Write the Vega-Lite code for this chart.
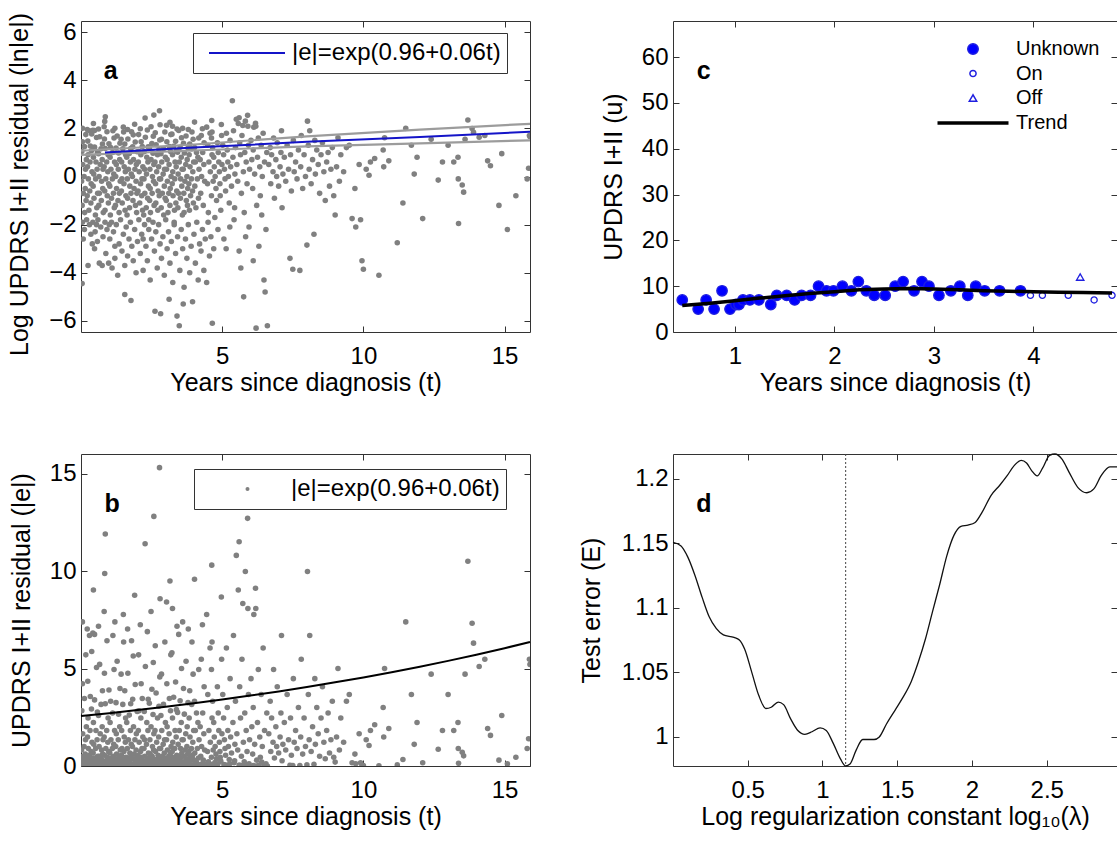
{
"$schema": "https://vega.github.io/schema/vega-lite/v6.json",
"background": "white",
"padding": {"left": 7, "top": 12, "right": 0, "bottom": 0},
"bounds": "flush",
"columns": 2,
"spacing": {"row": 122, "column": 143},
"resolve": {"scale": {"fill": "independent", "stroke": "independent", "shape": "independent", "size": "independent"}},
"datasets": {
"res": [
{"t":0.13,"l":-1.5,"e":0.22},{"t":0.04,"l":-1.2,"e":0.3},{"t":0.18,"l":-1,"e":0.37},{"t":0.08,"l":-0.7,"e":0.5},{"t":0.15,"l":-0.5,"e":0.61},{"t":0.02,"l":-0.2,"e":0.82},{"t":0.11,"l":0,"e":1},{"t":0.16,"l":0.3,"e":1.35},{"t":0.06,"l":0.5,"e":1.65},{"t":0.19,"l":0.7,"e":2.01},{"t":0.03,"l":1.04,"e":2.83},{"t":0.12,"l":1.24,"e":3.46},{"t":0.05,"l":1.44,"e":4.22},{"t":0.17,"l":1.74,"e":5.7},
{"t":0.28,"l":-1.4,"e":0.25},{"t":0.35,"l":-1.1,"e":0.33},{"t":0.22,"l":-0.8,"e":0.45},{"t":0.31,"l":-0.6,"e":0.55},{"t":0.36,"l":-0.3,"e":0.74},{"t":0.26,"l":-0.1,"e":0.9},{"t":0.39,"l":0.2,"e":1.22},{"t":0.23,"l":0.4,"e":1.49},{"t":0.32,"l":0.6,"e":1.82},{"t":0.25,"l":0.9,"e":2.46},{"t":0.37,"l":1.07,"e":2.92},{"t":0.33,"l":1.27,"e":3.56},{"t":0.24,"l":1.47,"e":4.35},{"t":0.38,"l":1.77,"e":5.87},
{"t":0.51,"l":-1.6,"e":0.2},{"t":0.56,"l":-1.3,"e":0.27},{"t":0.46,"l":-0.9,"e":0.41},{"t":0.59,"l":-0.7,"e":0.5},{"t":0.43,"l":-0.4,"e":0.67},{"t":0.52,"l":-0.1,"e":0.9},{"t":0.45,"l":0.1,"e":1.11},{"t":0.57,"l":0.3,"e":1.35},{"t":0.53,"l":0.6,"e":1.82},{"t":0.44,"l":0.8,"e":2.23},{"t":0.58,"l":1.02,"e":2.77},{"t":0.48,"l":1.22,"e":3.39},{"t":0.55,"l":1.62,"e":5.05},{"t":0.42,"l":1.92,"e":6.82},
{"t":0.79,"l":-1.5,"e":0.22},{"t":0.63,"l":-1.2,"e":0.3},{"t":0.72,"l":-1,"e":0.37},{"t":0.65,"l":-0.7,"e":0.5},{"t":0.77,"l":-0.5,"e":0.61},{"t":0.73,"l":-0.2,"e":0.82},{"t":0.64,"l":0,"e":1},{"t":0.78,"l":0.3,"e":1.35},{"t":0.68,"l":0.5,"e":1.65},{"t":0.75,"l":0.7,"e":2.01},{"t":0.62,"l":0.95,"e":2.59},{"t":0.71,"l":1.15,"e":3.16},{"t":0.76,"l":1.35,"e":3.86},{"t":0.66,"l":1.65,"e":5.21},
{"t":0.85,"l":-1.4,"e":0.25},{"t":0.97,"l":-1.1,"e":0.33},{"t":0.93,"l":-0.8,"e":0.45},{"t":0.84,"l":-0.6,"e":0.55},{"t":0.98,"l":-0.3,"e":0.74},{"t":0.88,"l":-0.1,"e":0.9},{"t":0.95,"l":0.2,"e":1.22},{"t":0.82,"l":0.4,"e":1.49},{"t":0.91,"l":0.6,"e":1.82},{"t":0.96,"l":0.9,"e":2.46},{"t":0.86,"l":1.16,"e":3.19},{"t":0.99,"l":1.36,"e":3.9},{"t":0.83,"l":1.56,"e":4.76},{"t":0.92,"l":1.86,"e":6.42},
{"t":1.04,"l":-1.6,"e":0.2},{"t":1.18,"l":-1.3,"e":0.27},{"t":1.08,"l":-0.9,"e":0.41},{"t":1.15,"l":-0.7,"e":0.5},{"t":1.02,"l":-0.4,"e":0.67},{"t":1.11,"l":-0.1,"e":0.9},{"t":1.16,"l":0.1,"e":1.11},{"t":1.06,"l":0.3,"e":1.35},{"t":1.19,"l":0.6,"e":1.82},{"t":1.03,"l":0.8,"e":2.23},{"t":1.12,"l":1,"e":2.72},{"t":1.05,"l":1.2,"e":3.32},{"t":1.17,"l":1.6,"e":4.95},{"t":1.13,"l":1.9,"e":6.69},
{"t":1.35,"l":-1.5,"e":0.22},{"t":1.22,"l":-1.2,"e":0.3},{"t":1.31,"l":-1,"e":0.37},{"t":1.36,"l":-0.7,"e":0.5},{"t":1.26,"l":-0.5,"e":0.61},{"t":1.39,"l":-0.2,"e":0.82},{"t":1.23,"l":0,"e":1},{"t":1.32,"l":0.3,"e":1.35},{"t":1.25,"l":0.5,"e":1.65},{"t":1.37,"l":0.7,"e":2.01},{"t":1.33,"l":0.98,"e":2.66},{"t":1.24,"l":1.18,"e":3.25},{"t":1.38,"l":1.38,"e":3.97},{"t":1.28,"l":1.68,"e":5.37},
{"t":1.56,"l":-1.4,"e":0.25},{"t":1.46,"l":-1.1,"e":0.33},{"t":1.59,"l":-0.8,"e":0.45},{"t":1.43,"l":-0.6,"e":0.55},{"t":1.52,"l":-0.3,"e":0.74},{"t":1.45,"l":-0.1,"e":0.9},{"t":1.57,"l":0.2,"e":1.22},{"t":1.53,"l":0.4,"e":1.49},{"t":1.44,"l":0.6,"e":1.82},{"t":1.58,"l":0.9,"e":2.46},{"t":1.48,"l":1.15,"e":3.16},{"t":1.55,"l":1.35,"e":3.86},{"t":1.42,"l":1.55,"e":4.71},{"t":1.51,"l":1.85,"e":6.36},
{"t":1.63,"l":-1.6,"e":0.2},{"t":1.72,"l":-1.3,"e":0.27},{"t":1.65,"l":-0.9,"e":0.41},{"t":1.77,"l":-0.7,"e":0.5},{"t":1.73,"l":-0.4,"e":0.67},{"t":1.64,"l":-0.1,"e":0.9},{"t":1.78,"l":0.1,"e":1.11},{"t":1.68,"l":0.3,"e":1.35},{"t":1.75,"l":0.6,"e":1.82},{"t":1.62,"l":0.8,"e":2.23},{"t":1.71,"l":0.96,"e":2.61},{"t":1.76,"l":1.16,"e":3.19},{"t":1.66,"l":1.56,"e":4.76},{"t":1.79,"l":1.86,"e":6.42},
{"t":1.97,"l":-1.5,"e":0.22},{"t":1.93,"l":-1.2,"e":0.3},{"t":1.84,"l":-1,"e":0.37},{"t":1.98,"l":-0.7,"e":0.5},{"t":1.88,"l":-0.5,"e":0.61},{"t":1.95,"l":-0.2,"e":0.82},{"t":1.82,"l":0,"e":1},{"t":1.91,"l":0.3,"e":1.35},{"t":1.96,"l":0.5,"e":1.65},{"t":1.86,"l":0.7,"e":2.01},{"t":1.99,"l":1.03,"e":2.8},{"t":1.83,"l":1.23,"e":3.42},{"t":1.92,"l":1.43,"e":4.18},{"t":1.85,"l":1.73,"e":5.64},
{"t":2.18,"l":-1.4,"e":0.25},{"t":2.08,"l":-1.1,"e":0.33},{"t":2.15,"l":-0.8,"e":0.45},{"t":2.02,"l":-0.6,"e":0.55},{"t":2.11,"l":-0.3,"e":0.74},{"t":2.16,"l":-0.1,"e":0.9},{"t":2.06,"l":0.2,"e":1.22},{"t":2.19,"l":0.4,"e":1.49},{"t":2.03,"l":0.6,"e":1.82},{"t":2.12,"l":0.9,"e":2.46},{"t":2.05,"l":1.04,"e":2.83},{"t":2.17,"l":1.24,"e":3.46},{"t":2.13,"l":1.44,"e":4.22},{"t":2.04,"l":1.74,"e":5.7},
{"t":2.22,"l":-1.6,"e":0.2},{"t":2.31,"l":-1.3,"e":0.27},{"t":2.36,"l":-0.9,"e":0.41},{"t":2.26,"l":-0.7,"e":0.5},{"t":2.39,"l":-0.4,"e":0.67},{"t":2.23,"l":-0.1,"e":0.9},{"t":2.32,"l":0.1,"e":1.11},{"t":2.25,"l":0.3,"e":1.35},{"t":2.37,"l":0.6,"e":1.82},{"t":2.33,"l":0.8,"e":2.23},{"t":2.24,"l":1.03,"e":2.8},{"t":2.38,"l":1.23,"e":3.42},{"t":2.28,"l":1.63,"e":5.1},{"t":2.35,"l":1.93,"e":6.89},
{"t":2.46,"l":-1.5,"e":0.22},{"t":2.59,"l":-1.2,"e":0.3},{"t":2.43,"l":-1,"e":0.37},{"t":2.52,"l":-0.7,"e":0.5},{"t":2.45,"l":-0.5,"e":0.61},{"t":2.57,"l":-0.2,"e":0.82},{"t":2.53,"l":0,"e":1},{"t":2.44,"l":0.3,"e":1.35},{"t":2.58,"l":0.5,"e":1.65},{"t":2.48,"l":0.7,"e":2.01},{"t":2.55,"l":0.97,"e":2.64},{"t":2.42,"l":1.17,"e":3.22},{"t":2.51,"l":1.37,"e":3.94},{"t":2.56,"l":1.67,"e":5.31},
{"t":2.72,"l":-1.4,"e":0.25},{"t":2.65,"l":-1.1,"e":0.33},{"t":2.77,"l":-0.8,"e":0.45},{"t":2.73,"l":-0.6,"e":0.55},{"t":2.64,"l":-0.3,"e":0.74},{"t":2.78,"l":-0.1,"e":0.9},{"t":2.68,"l":0.2,"e":1.22},{"t":2.75,"l":0.4,"e":1.49},{"t":2.62,"l":0.6,"e":1.82},{"t":2.71,"l":0.9,"e":2.46},{"t":2.76,"l":1.12,"e":3.06},{"t":2.66,"l":1.32,"e":3.74},{"t":2.79,"l":1.52,"e":4.57},{"t":2.63,"l":1.82,"e":6.17},
{"t":2.93,"l":-1.6,"e":0.2},{"t":2.84,"l":-1.3,"e":0.27},{"t":2.98,"l":-0.9,"e":0.41},{"t":2.88,"l":-0.7,"e":0.5},{"t":2.95,"l":-0.4,"e":0.67},{"t":2.82,"l":-0.1,"e":0.9},{"t":2.91,"l":0.1,"e":1.11},{"t":2.96,"l":0.3,"e":1.35},{"t":2.86,"l":0.6,"e":1.82},{"t":2.99,"l":0.8,"e":2.23},{"t":2.83,"l":0.95,"e":2.59},{"t":2.92,"l":1.15,"e":3.16},{"t":2.85,"l":1.55,"e":4.71},{"t":2.97,"l":1.85,"e":6.36},
{"t":3.08,"l":-1.5,"e":0.22},{"t":3.15,"l":-1.2,"e":0.3},{"t":3.02,"l":-1,"e":0.37},{"t":3.11,"l":-0.7,"e":0.5},{"t":3.16,"l":-0.5,"e":0.61},{"t":3.06,"l":-0.2,"e":0.82},{"t":3.19,"l":0,"e":1},{"t":3.03,"l":0.3,"e":1.35},{"t":3.12,"l":0.5,"e":1.65},{"t":3.05,"l":0.7,"e":2.01},{"t":3.17,"l":1.04,"e":2.83},{"t":3.13,"l":1.24,"e":3.46},{"t":3.04,"l":1.44,"e":4.22},{"t":3.18,"l":1.74,"e":5.7},
{"t":3.31,"l":-1.4,"e":0.25},{"t":3.36,"l":-1.1,"e":0.33},{"t":3.26,"l":-0.8,"e":0.45},{"t":3.39,"l":-0.6,"e":0.55},{"t":3.23,"l":-0.3,"e":0.74},{"t":3.32,"l":-0.1,"e":0.9},{"t":3.25,"l":0.2,"e":1.22},{"t":3.37,"l":0.4,"e":1.49},{"t":3.33,"l":0.6,"e":1.82},{"t":3.24,"l":0.9,"e":2.46},{"t":3.38,"l":1.06,"e":2.89},{"t":3.28,"l":1.26,"e":3.53},{"t":3.35,"l":1.46,"e":4.31},{"t":3.22,"l":1.76,"e":5.81},
{"t":3.59,"l":-1.6,"e":0.2},{"t":3.43,"l":-1.3,"e":0.27},{"t":3.52,"l":-0.9,"e":0.41},{"t":3.45,"l":-0.7,"e":0.5},{"t":3.57,"l":-0.4,"e":0.67},{"t":3.53,"l":-0.1,"e":0.9},{"t":3.44,"l":0.1,"e":1.11},{"t":3.58,"l":0.3,"e":1.35},{"t":3.48,"l":0.6,"e":1.82},{"t":3.55,"l":0.8,"e":2.23},{"t":3.42,"l":1.01,"e":2.75},{"t":3.51,"l":1.21,"e":3.35},{"t":3.56,"l":1.61,"e":5},{"t":3.46,"l":1.91,"e":6.75},
{"t":3.65,"l":-1.5,"e":0.22},{"t":3.77,"l":-1.2,"e":0.3},{"t":3.73,"l":-1,"e":0.37},{"t":3.64,"l":-0.7,"e":0.5},{"t":3.78,"l":-0.5,"e":0.61},{"t":3.68,"l":-0.2,"e":0.82},{"t":3.75,"l":0,"e":1},{"t":3.62,"l":0.3,"e":1.35},{"t":3.71,"l":0.5,"e":1.65},{"t":3.76,"l":0.7,"e":2.01},{"t":3.66,"l":0.98,"e":2.66},{"t":3.79,"l":1.18,"e":3.25},{"t":3.63,"l":1.38,"e":3.97},{"t":3.72,"l":1.68,"e":5.37},
{"t":3.84,"l":-1.4,"e":0.25},{"t":3.98,"l":-1.1,"e":0.33},{"t":3.88,"l":-0.8,"e":0.45},{"t":3.95,"l":-0.6,"e":0.55},{"t":3.82,"l":-0.3,"e":0.74},{"t":3.91,"l":-0.1,"e":0.9},{"t":3.96,"l":0.2,"e":1.22},{"t":3.86,"l":0.4,"e":1.49},{"t":3.99,"l":0.6,"e":1.82},{"t":3.83,"l":0.9,"e":2.46},{"t":3.92,"l":1.15,"e":3.16},{"t":3.85,"l":1.35,"e":3.86},{"t":3.97,"l":1.55,"e":4.71},{"t":3.93,"l":1.85,"e":6.36},
{"t":4.07,"l":-1.3,"e":0.27},{"t":4.16,"l":-0.9,"e":0.41},{"t":4.03,"l":-0.4,"e":0.67},{"t":4.12,"l":-0.1,"e":0.9},{"t":4.18,"l":0.3,"e":1.35},{"t":4.05,"l":0.6,"e":1.82},{"t":4.14,"l":0.8,"e":2.23},{"t":4.09,"l":1,"e":2.72},{"t":4.02,"l":1.2,"e":3.32},{"t":4.17,"l":1.6,"e":4.95},
{"t":4.33,"l":-1.2,"e":0.3},{"t":4.24,"l":-0.7,"e":0.5},{"t":4.38,"l":-0.2,"e":0.82},{"t":4.27,"l":0,"e":1},{"t":4.35,"l":0.5,"e":1.65},{"t":4.22,"l":0.7,"e":2.01},{"t":4.31,"l":1,"e":2.72},{"t":4.36,"l":1.4,"e":4.06},{"t":4.26,"l":1.7,"e":5.47},
{"t":4.51,"l":-1.5,"e":0.22},{"t":4.62,"l":-0.8,"e":0.45},{"t":4.48,"l":-0.3,"e":0.74},{"t":4.58,"l":0.2,"e":1.22},{"t":4.53,"l":0.6,"e":1.82},{"t":4.64,"l":0.9,"e":2.46},{"t":4.49,"l":1.3,"e":3.67},{"t":4.57,"l":1.8,"e":6.05},
{"t":0.05,"l":-1.9,"e":0.15},{"t":0.12,"l":-2.2,"e":0.11},{"t":0.2,"l":-1.8,"e":0.17},{"t":0.08,"l":-2.6,"e":0.074},{"t":0.04,"l":-4.45,"e":0.012},{"t":0.3,"l":-2,"e":0.135},{"t":0.35,"l":-2.4,"e":0.091},{"t":0.25,"l":-3.7,"e":0.025},{"t":0.42,"l":-1.9,"e":0.15},{"t":0.5,"l":-2.3,"e":0.1},{"t":0.48,"l":-3,"e":0.05},{"t":0.58,"l":-2.7,"e":0.067},{"t":0.6,"l":-1.8,"e":0.17},{"t":0.65,"l":-3.6,"e":0.027},{"t":0.7,"l":-2.1,"e":0.12},{"t":0.75,"l":-3.7,"e":0.025},{"t":0.78,"l":-2.5,"e":0.082},{"t":0.85,"l":-1.9,"e":0.15},{"t":0.88,"l":-3.2,"e":0.041},{"t":0.92,"l":-2.2,"e":0.11},{"t":0.98,"l":-3.6,"e":0.027},
{"t":1.02,"l":-2.6,"e":0.074},{"t":1.08,"l":-1.9,"e":0.15},{"t":1.1,"l":-3.8,"e":0.022},{"t":1.15,"l":-2.3,"e":0.1},{"t":1.2,"l":-3.4,"e":0.033},{"t":1.25,"l":-2,"e":0.135},{"t":1.3,"l":-4.1,"e":0.017},{"t":1.35,"l":-2.8,"e":0.061},{"t":1.4,"l":-1.8,"e":0.17},{"t":1.45,"l":-3.1,"e":0.045},{"t":1.5,"l":-2.4,"e":0.091},{"t":1.55,"l":-3.7,"e":0.025},{"t":1.6,"l":-2.1,"e":0.12},{"t":1.65,"l":-3.3,"e":0.037},{"t":1.7,"l":-2.6,"e":0.074},{"t":1.75,"l":-1.9,"e":0.15},{"t":1.8,"l":-2.9,"e":0.055},{"t":1.85,"l":-3.5,"e":0.03},{"t":1.9,"l":-2.2,"e":0.11},{"t":1.95,"l":-4,"e":0.018},
{"t":2,"l":-2.7,"e":0.067},{"t":2.05,"l":-1.8,"e":0.17},{"t":2.1,"l":-3.2,"e":0.041},{"t":2.15,"l":-2.4,"e":0.091},{"t":2.2,"l":-3.9,"e":0.02},{"t":2.25,"l":-2,"e":0.135},{"t":2.3,"l":-2.9,"e":0.055},{"t":2.35,"l":-3.5,"e":0.03},{"t":2.4,"l":-2.2,"e":0.11},{"t":2.45,"l":-4.3,"e":0.014},{"t":2.5,"l":-2.6,"e":0.074},{"t":2.55,"l":-1.9,"e":0.15},{"t":2.6,"l":-3.1,"e":0.045},{"t":2.62,"l":-5.6,"e":0.004},{"t":2.65,"l":-2.3,"e":0.1},{"t":2.7,"l":-3.8,"e":0.022},{"t":2.75,"l":-2,"e":0.135},{"t":2.8,"l":-2.8,"e":0.061},{"t":2.82,"l":-5.7,"e":0.003},{"t":2.85,"l":-3.4,"e":0.033},{"t":2.9,"l":-2.5,"e":0.082},{"t":2.95,"l":-4.1,"e":0.017},
{"t":3,"l":-1.8,"e":0.17},{"t":3.05,"l":-3,"e":0.05},{"t":3.1,"l":-2.3,"e":0.1},{"t":3.12,"l":-5.1,"e":0.006},{"t":3.15,"l":-3.6,"e":0.027},{"t":3.2,"l":-2.7,"e":0.067},{"t":3.25,"l":-4.4,"e":0.012},{"t":3.3,"l":-2,"e":0.135},{"t":3.35,"l":-3.2,"e":0.041},{"t":3.4,"l":-5.8,"e":0.003},{"t":3.42,"l":-2.5,"e":0.082},{"t":3.48,"l":-6.2,"e":0.002},{"t":3.5,"l":-3.9,"e":0.02},{"t":3.55,"l":-2.2,"e":0.11},{"t":3.6,"l":-3,"e":0.05},{"t":3.62,"l":-5.3,"e":0.005},{"t":3.65,"l":-4.6,"e":0.01},{"t":3.7,"l":-2.6,"e":0.074},{"t":3.75,"l":-3.4,"e":0.033},{"t":3.8,"l":-2,"e":0.135},{"t":3.85,"l":-4,"e":0.018},{"t":3.9,"l":-2.9,"e":0.055},{"t":3.95,"l":-5.2,"e":0.006},
{"t":4,"l":-2.4,"e":0.091},{"t":4.05,"l":-3.6,"e":0.027},{"t":4.1,"l":-1.9,"e":0.15},{"t":4.15,"l":-4.3,"e":0.014},{"t":4.2,"l":-2.8,"e":0.061},{"t":4.25,"l":-3.1,"e":0.045},{"t":4.3,"l":-2.2,"e":0.11},{"t":4.35,"l":-3.9,"e":0.02},{"t":4.4,"l":-2.6,"e":0.074},{"t":4.45,"l":-4.4,"e":0.012},{"t":4.5,"l":-1.9,"e":0.15},{"t":4.55,"l":-3.3,"e":0.037},{"t":4.6,"l":-2.5,"e":0.082},{"t":4.65,"l":-6.1,"e":0.002},{"t":4.7,"l":-3,"e":0.05},
{"t":1.2,"l":-2.9,"e":0.055},{"t":0.4,"l":-2.8,"e":0.061},{"t":0.55,"l":-2,"e":0.135},{"t":1,"l":-2,"e":0.135},{"t":2.4,"l":-1.8,"e":0.17},{"t":3.3,"l":-1.9,"e":0.15},{"t":2.2,"l":-2.6,"e":0.074},{"t":1.55,"l":-4.9,"e":0.007},{"t":1.77,"l":-5.15,"e":0.006},
{"t":0.05,"l":2,"e":7.39},{"t":0.22,"l":1.95,"e":7.03},{"t":0.3,"l":1.9,"e":6.69},{"t":0.44,"l":2.2,"e":9.03},{"t":0.48,"l":1.91,"e":6.75},{"t":0.62,"l":1.97,"e":7.17},{"t":0.82,"l":2.07,"e":7.92},{"t":0.84,"l":2.29,"e":9.87},{"t":0.86,"l":2.48,"e":11.9},{"t":1.2,"l":2,"e":7.39},{"t":1.5,"l":2.05,"e":7.77},{"t":1.65,"l":1.95,"e":7.03},{"t":1.9,"l":2.17,"e":8.76},{"t":2.1,"l":1.98,"e":7.24},{"t":2.27,"l":2.43,"e":11.4},{"t":2.48,"l":2.07,"e":7.92},{"t":2.58,"l":2.55,"e":12.8},{"t":2.78,"l":2.73,"e":15.3},{"t":2.8,"l":2.15,"e":8.58},{"t":3.03,"l":2.13,"e":8.41},{"t":3.15,"l":2.25,"e":9.49},{"t":3.24,"l":2.09,"e":8.08},{"t":3.4,"l":1.97,"e":7.17},{"t":3.6,"l":2,"e":7.39},{"t":3.8,"l":1.95,"e":7.03},{"t":4.02,"l":2.26,"e":9.58},{"t":4.3,"l":1.98,"e":7.24},{"t":4.45,"l":2.05,"e":7.77},{"t":4.63,"l":2.33,"e":10.3},{"t":4.97,"l":2.16,"e":8.67},
{"t":4.62,"l":1.6,"e":4.95},{"t":4.66,"l":1.2,"e":3.32},{"t":4.7,"l":0.8,"e":2.23},{"t":4.72,"l":0.4,"e":1.49},{"t":4.75,"l":0,"e":1},{"t":4.78,"l":-0.5,"e":0.61},{"t":4.8,"l":-1,"e":0.37},{"t":4.64,"l":1.85,"e":6.36},{"t":4.68,"l":-0.2,"e":0.82},{"t":4.83,"l":1.4,"e":4.06},{"t":4.86,"l":1,"e":2.72},{"t":4.88,"l":0.6,"e":1.82},{"t":4.9,"l":0.2,"e":1.22},{"t":4.92,"l":-0.3,"e":0.74},{"t":4.95,"l":-1.4,"e":0.25},{"t":4.98,"l":1.7,"e":5.47},{"t":4.85,"l":-2.2,"e":0.11},{"t":4.93,"l":-0.8,"e":0.45},{"t":4.74,"l":-1.7,"e":0.18},{"t":4.99,"l":0.5,"e":1.65},
{"t":5.02,"l":1.3,"e":3.67},{"t":5.05,"l":0.9,"e":2.46},{"t":5.08,"l":0.3,"e":1.35},{"t":5.1,"l":-0.1,"e":0.9},{"t":5.12,"l":-0.6,"e":0.55},{"t":5.15,"l":1.8,"e":6.05},{"t":5.18,"l":1.1,"e":3},{"t":5.2,"l":0.6,"e":1.82},{"t":5.22,"l":0,"e":1},{"t":5.25,"l":-1.1,"e":0.33},{"t":5.28,"l":1.5,"e":4.48},{"t":5.3,"l":0.4,"e":1.49},{"t":5.33,"l":-0.4,"e":0.67},{"t":5.36,"l":3.15,"e":23.3},{"t":5.38,"l":0.8,"e":2.23},{"t":5.4,"l":1.9,"e":6.69},{"t":5.42,"l":-1.8,"e":0.17},{"t":5.45,"l":0.1,"e":1.11},{"t":5.47,"l":1.2,"e":3.32},{"t":5.5,"l":2.38,"e":10.8},{"t":5.06,"l":-2.6,"e":0.074},{"t":5.27,"l":-2.1,"e":0.12},{"t":5.44,"l":-1.3,"e":0.27},{"t":5.14,"l":-3,"e":0.05},
{"t":5.52,"l":0.5,"e":1.65},{"t":5.55,"l":-0.2,"e":0.82},{"t":5.57,"l":2.2,"e":9.03},{"t":5.6,"l":2.44,"e":11.5},{"t":5.62,"l":1.4,"e":4.06},{"t":5.65,"l":0.9,"e":2.46},{"t":5.68,"l":-0.7,"e":0.5},{"t":5.7,"l":1.7,"e":5.47},{"t":5.73,"l":2.12,"e":8.33},{"t":5.75,"l":0.2,"e":1.22},{"t":5.78,"l":-1.5,"e":0.22},{"t":5.8,"l":1,"e":2.72},{"t":5.82,"l":2.3,"e":9.97},{"t":5.85,"l":0.6,"e":1.82},{"t":5.88,"l":-0.3,"e":0.74},{"t":5.9,"l":2.54,"e":12.7},{"t":5.91,"l":2.09,"e":8.08},{"t":5.93,"l":1.3,"e":3.67},{"t":5.95,"l":-2.1,"e":0.12},{"t":5.97,"l":0.3,"e":1.35},{"t":5.6,"l":-3.1,"e":0.045},{"t":5.76,"l":-5,"e":0.007},{"t":5.83,"l":-2.5,"e":0.082},{"t":5.66,"l":-3.8,"e":0.022},
{"t":6.02,"l":1.5,"e":4.48},{"t":6.05,"l":0.7,"e":2.01},{"t":6.08,"l":-0.5,"e":0.61},{"t":6.1,"l":1.1,"e":3},{"t":6.12,"l":2.05,"e":7.77},{"t":6.15,"l":0.1,"e":1.11},{"t":6.18,"l":2.21,"e":9.12},{"t":6.19,"l":2.09,"e":8.08},{"t":6.22,"l":-1.2,"e":0.3},{"t":6.25,"l":0.8,"e":2.23},{"t":6.28,"l":1.6,"e":4.95},{"t":6.3,"l":-2.9,"e":0.055},{"t":6.33,"l":0.4,"e":1.49},{"t":6.35,"l":-0.8,"e":0.45},{"t":6.38,"l":1.3,"e":3.67},{"t":6.4,"l":-1.6,"e":0.2},{"t":6.42,"l":0,"e":1},{"t":6.45,"l":1.8,"e":6.05},{"t":6.48,"l":-4.3,"e":0.014},{"t":6.5,"l":0.6,"e":1.82},{"t":6.52,"l":-4.8,"e":0.008},{"t":6.55,"l":-2.2,"e":0.11},{"t":6.58,"l":1,"e":2.72},{"t":6.2,"l":-6.3,"e":0.002},{"t":6.6,"l":-6.2,"e":0.002},{"t":6.1,"l":-3.5,"e":0.03},
{"t":6.65,"l":0.5,"e":1.65},{"t":6.7,"l":1.2,"e":3.32},{"t":6.72,"l":-0.3,"e":0.74},{"t":6.75,"l":0.9,"e":2.46},{"t":6.8,"l":0.2,"e":1.22},{"t":6.82,"l":1.6,"e":4.95},{"t":6.85,"l":-0.9,"e":0.41},{"t":6.9,"l":0.7,"e":2.01},{"t":6.93,"l":0,"e":1},{"t":6.95,"l":1.4,"e":4.06},{"t":7,"l":-0.4,"e":0.67},{"t":7.05,"l":0.4,"e":1.49},{"t":7.08,"l":1,"e":2.72},{"t":7.1,"l":1.9,"e":6.69},{"t":7.12,"l":-1.3,"e":0.27},{"t":7.15,"l":0.1,"e":1.11},{"t":7.2,"l":0.8,"e":2.23},{"t":7.25,"l":-0.2,"e":0.82},{"t":7.3,"l":1.3,"e":3.67},{"t":7.35,"l":0.3,"e":1.35},{"t":7.4,"l":-3.4,"e":0.033},{"t":7.42,"l":0.9,"e":2.46},{"t":7.45,"l":-0.6,"e":0.55},{"t":7.5,"l":-3.85,"e":0.021},{"t":7.52,"l":1.5,"e":4.48},{"t":7.55,"l":0.2,"e":1.22},{"t":7.6,"l":0.6,"e":1.82},{"t":7.65,"l":-0.1,"e":0.9},{"t":7.7,"l":1.1,"e":3},{"t":7.75,"l":-3.9,"e":0.02},{"t":7.78,"l":0.4,"e":1.49},{"t":7.8,"l":1.7,"e":5.47},{"t":7.85,"l":-0.5,"e":0.61},{"t":7.9,"l":0.9,"e":2.46},{"t":7.95,"l":0,"e":1},
{"t":8,"l":-2.85,"e":0.058},{"t":8.02,"l":2.3,"e":9.97},{"t":8.05,"l":1.3,"e":3.67},{"t":8.08,"l":0.3,"e":1.35},{"t":8.1,"l":1.9,"e":6.69},{"t":8.15,"l":-0.3,"e":0.74},{"t":8.2,"l":0.7,"e":2.01},{"t":8.25,"l":-2.4,"e":0.091},{"t":8.28,"l":1.5,"e":4.48},{"t":8.3,"l":0.1,"e":1.11},{"t":8.35,"l":1.1,"e":3},{"t":8.4,"l":0.5,"e":1.65},{"t":8.45,"l":-0.7,"e":0.5},{"t":8.5,"l":0.9,"e":2.46},{"t":8.55,"l":1.4,"e":4.06},{"t":8.6,"l":0.2,"e":1.22},{"t":8.65,"l":-1,"e":0.37},{"t":8.7,"l":0.6,"e":1.82},{"t":8.75,"l":1,"e":2.72},{"t":8.8,"l":-0.4,"e":0.67},{"t":8.85,"l":0.3,"e":1.35},{"t":8.9,"l":1.2,"e":3.32},{"t":8.95,"l":-0.8,"e":0.45},{"t":9,"l":-1.6,"e":0.2},{"t":9.05,"l":0.4,"e":1.49},{"t":9.1,"l":1.61,"e":5},{"t":9.15,"l":-0.2,"e":0.82},
{"t":9.2,"l":0.9,"e":2.46},{"t":9.3,"l":0.2,"e":1.22},{"t":9.4,"l":1.2,"e":3.32},{"t":9.5,"l":1.3,"e":3.67},{"t":9.6,"l":-1.75,"e":0.17},{"t":9.7,"l":-0.5,"e":0.61},{"t":9.73,"l":-2.1,"e":0.12},{"t":9.85,"l":0.5,"e":1.65},{"t":9.9,"l":-1.8,"e":0.17},{"t":9.95,"l":-3.5,"e":0.03},{"t":10,"l":-3.85,"e":0.021},{"t":10.1,"l":0.3,"e":1.35},{"t":10.2,"l":0.05,"e":1.05},{"t":10.25,"l":0.6,"e":1.82},{"t":10.4,"l":0.75,"e":2.12},{"t":10.55,"l":-4.1,"e":0.017},{"t":10.7,"l":1.1,"e":3},{"t":10.72,"l":0.4,"e":1.49},{"t":10.75,"l":1.61,"e":5},{"t":10.9,"l":0.65,"e":1.92},{"t":11.2,"l":-2.75,"e":0.064},{"t":11.4,"l":-1.1,"e":0.33},{"t":11.5,"l":2,"e":7.39},{"t":11.7,"l":1.3,"e":3.67},{"t":11.8,"l":0.1,"e":1.11},{"t":11.9,"l":0.8,"e":2.23},
{"t":12.1,"l":-1.75,"e":0.17},{"t":12.4,"l":1.55,"e":4.71},{"t":12.65,"l":-0.15,"e":0.86},{"t":12.8,"l":0.6,"e":1.82},{"t":13,"l":1.3,"e":3.67},{"t":13.2,"l":0.6,"e":1.82},{"t":13.35,"l":0.8,"e":2.23},{"t":13.36,"l":-0.1,"e":0.9},{"t":13.37,"l":-1.95,"e":0.14},{"t":13.5,"l":-0.35,"e":0.7},{"t":13.55,"l":-0.65,"e":0.52},{"t":13.6,"l":1.55,"e":4.71},{"t":13.7,"l":2.35,"e":10.5},{"t":13.85,"l":1.99,"e":7.32},{"t":13.9,"l":1.84,"e":6.3},{"t":14.1,"l":1.63,"e":5.1},{"t":14.3,"l":1.7,"e":5.47},{"t":14.4,"l":0.65,"e":1.92},{"t":14.5,"l":0.45,"e":1.57},{"t":14.8,"l":-1.2,"e":0.3},{"t":14.9,"l":0.95,"e":2.59},{"t":15.1,"l":-2.2,"e":0.11},{"t":15.4,"l":-0.8,"e":0.45},{"t":15.8,"l":-0.1,"e":0.9},{"t":15.88,"l":1.7,"e":5.47},{"t":15.9,"l":1.65,"e":5.21},{"t":15.85,"l":0.34,"e":1.4}
],
"aband": [
{"t":0,"l":1.07,"b":"hi"},{"t":4,"l":1.33,"b":"hi"},{"t":8,"l":1.67,"b":"hi"},{"t":12,"l":1.95,"b":"hi"},{"t":15.9,"l":2.19,"b":"hi"},
{"t":0,"l":0.9,"b":"lo"},{"t":4,"l":1.08,"b":"lo"},{"t":8,"l":1.25,"b":"lo"},{"t":12,"l":1.38,"b":"lo"},{"t":15.9,"l":1.5,"b":"lo"}
],
"afit": [{"t":0.85,"l":1.0},{"t":4,"l":1.2},{"t":8,"l":1.44},{"t":12,"l":1.64},{"t":15.9,"l":1.86}],
"bfit": [{"t":0,"e":2.56},{"t":1,"e":2.71},{"t":2,"e":2.87},{"t":3,"e":3.04},{"t":4,"e":3.22},{"t":5,"e":3.41},{"t":6,"e":3.61},{"t":7,"e":3.82},{"t":8,"e":4.05},{"t":9,"e":4.29},{"t":10,"e":4.54},{"t":11,"e":4.81},{"t":12,"e":5.09},{"t":13,"e":5.39},{"t":14,"e":5.71},{"t":15,"e":6.04},{"t":15.9,"e":6.36}],
"cpts": [
{"t":0.47,"u":7,"s":"Unknown"},{"t":0.63,"u":5,"s":"Unknown"},{"t":0.71,"u":7,"s":"Unknown"},{"t":0.79,"u":5,"s":"Unknown"},{"t":0.87,"u":9,"s":"Unknown"},{"t":0.95,"u":5,"s":"Unknown"},{"t":1.01,"u":6,"s":"Unknown"},{"t":1.04,"u":6,"s":"Unknown"},{"t":1.08,"u":7,"s":"Unknown"},{"t":1.15,"u":7,"s":"Unknown"},{"t":1.24,"u":7,"s":"Unknown"},{"t":1.36,"u":6,"s":"Unknown"},{"t":1.42,"u":8,"s":"Unknown"},{"t":1.52,"u":8,"s":"Unknown"},{"t":1.6,"u":7,"s":"Unknown"},{"t":1.67,"u":8,"s":"Unknown"},{"t":1.76,"u":8,"s":"Unknown"},{"t":1.84,"u":10,"s":"Unknown"},{"t":1.92,"u":9,"s":"Unknown"},{"t":1.99,"u":9,"s":"Unknown"},{"t":2.08,"u":10,"s":"Unknown"},{"t":2.17,"u":9,"s":"Unknown"},{"t":2.24,"u":11,"s":"Unknown"},{"t":2.32,"u":9,"s":"Unknown"},{"t":2.4,"u":8,"s":"Unknown"},{"t":2.51,"u":8,"s":"Unknown"},{"t":2.61,"u":10,"s":"Unknown"},{"t":2.69,"u":11,"s":"Unknown"},{"t":2.8,"u":9,"s":"Unknown"},{"t":2.88,"u":11,"s":"Unknown"},{"t":2.95,"u":10,"s":"Unknown"},{"t":3.05,"u":8,"s":"Unknown"},{"t":3.17,"u":9,"s":"Unknown"},{"t":3.26,"u":10,"s":"Unknown"},{"t":3.34,"u":8,"s":"Unknown"},{"t":3.42,"u":10,"s":"Unknown"},{"t":3.51,"u":9,"s":"Unknown"},{"t":3.66,"u":9,"s":"Unknown"},{"t":3.87,"u":9,"s":"Unknown"},
{"t":3.97,"u":8,"s":"On"},{"t":4.09,"u":8,"s":"On"},{"t":4.35,"u":8,"s":"On"},{"t":4.61,"u":7,"s":"On"},{"t":4.79,"u":8,"s":"On"},
{"t":4.47,"u":12,"s":"Off"}
],
"ctrend": [{"t":0.47,"u":5.8},{"t":0.75,"u":6.3},{"t":1,"u":6.8},{"t":1.25,"u":7.4},{"t":1.5,"u":7.9},{"t":1.75,"u":8.4},{"t":2,"u":8.8},{"t":2.25,"u":9.2},{"t":2.5,"u":9.4},{"t":2.75,"u":9.5},{"t":3,"u":9.4},{"t":3.25,"u":9.2},{"t":3.5,"u":9.0},{"t":3.75,"u":8.9},{"t":4,"u":8.8},{"t":4.25,"u":8.7},{"t":4.5,"u":8.6},{"t":4.79,"u":8.5}],
"dcurve": [
{"x":0,"E":1.1506},{"x":0.052,"E":1.148},{"x":0.1,"E":1.139},{"x":0.147,"E":1.125},{"x":0.195,"E":1.108},{"x":0.242,"E":1.093},{"x":0.289,"E":1.084},{"x":0.337,"E":1.079},{"x":0.408,"E":1.077},{"x":0.444,"E":1.075},{"x":0.479,"E":1.068},{"x":0.527,"E":1.05},{"x":0.574,"E":1.032},{"x":0.621,"E":1.022},{"x":0.657,"E":1.023},{"x":0.704,"E":1.027},{"x":0.74,"E":1.025},{"x":0.787,"E":1.014},{"x":0.835,"E":1.005},{"x":0.882,"E":1.002},{"x":0.93,"E":1.004},{"x":0.984,"E":1.007},{"x":1.025,"E":1.005},{"x":1.072,"E":0.995},{"x":1.12,"E":0.983},{"x":1.155,"E":0.9775},{"x":1.184,"E":0.979},{"x":1.226,"E":0.99},{"x":1.269,"E":0.998},{"x":1.302,"E":0.998},{"x":1.345,"E":0.998},{"x":1.38,"E":1.0},{"x":1.428,"E":1.01},{"x":1.487,"E":1.021},{"x":1.535,"E":1.03},{"x":1.594,"E":1.043},{"x":1.641,"E":1.058},{"x":1.689,"E":1.076},{"x":1.736,"E":1.097},{"x":1.784,"E":1.118},{"x":1.831,"E":1.14},{"x":1.879,"E":1.156},{"x":1.926,"E":1.163},{"x":1.973,"E":1.164},{"x":2.021,"E":1.166},{"x":2.068,"E":1.174},{"x":2.128,"E":1.187},{"x":2.187,"E":1.195},{"x":2.234,"E":1.202},{"x":2.282,"E":1.21},{"x":2.329,"E":1.214},{"x":2.365,"E":1.212},{"x":2.4,"E":1.206},{"x":2.436,"E":1.202},{"x":2.472,"E":1.208},{"x":2.519,"E":1.218},{"x":2.555,"E":1.219},{"x":2.602,"E":1.215},{"x":2.649,"E":1.205},{"x":2.709,"E":1.193},{"x":2.768,"E":1.189},{"x":2.815,"E":1.192},{"x":2.863,"E":1.202},{"x":2.922,"E":1.209},{"x":2.97,"E":1.209}
]
},
"concat": [
{
"width": 449, "height": 311,
"resolve": {"axis": {"x": "independent", "y": "independent"}},
"layer": [
{"data": {"name": "res"}, "mark": {"type": "circle", "size": 31, "color": "#808080", "opacity": 1, "clip": true},
 "encoding": {
  "x": {"field": "t", "type": "quantitative", "scale": {"domain": [0, 15.9], "nice": false, "zero": false}, "axis": {"values": [5, 10, 15], "title": "Years since diagnosis (t)"}},
  "y": {"field": "l", "type": "quantitative", "scale": {"domain": [-6.46, 6.46], "nice": false, "zero": false}, "axis": {"values": [-6, -4, -2, 0, 2, 4, 6], "title": "Log UPDRS I+II residual (ln|e|)", "titlePadding": 16, "titleY": 163}}
 }},
{"data": {"name": "aband"}, "mark": {"type": "line", "color": "#9c9c9c", "strokeWidth": 2.2},
 "encoding": {
  "x": {"field": "t", "type": "quantitative", "scale": {"domain": [0, 15.9], "nice": false, "zero": false}, "axis": null},
  "y": {"field": "l", "type": "quantitative", "scale": {"domain": [-6.46, 6.46], "nice": false, "zero": false}, "axis": null},
  "detail": {"field": "b", "type": "nominal"}
 }},
{"data": {"name": "afit"}, "mark": {"type": "line", "strokeWidth": 2},
 "encoding": {
  "x": {"field": "t", "type": "quantitative", "scale": {"domain": [0, 15.9], "nice": false, "zero": false}, "axis": null},
  "y": {"field": "l", "type": "quantitative", "scale": {"domain": [-6.46, 6.46], "nice": false, "zero": false}, "axis": null},
  "stroke": {"datum": "|e|=exp(0.96+0.06t)", "type": "nominal", "scale": {"range": ["#1414c8"]},
   "legend": {"title": null, "orient": "none", "legendX": 112, "legendY": 12, "strokeColor": "#333333", "fillColor": "white", "padding": 6, "symbolType": "stroke", "symbolSize": 5776, "symbolStrokeWidth": 2, "clipHeight": 28, "symbolOffset": 9, "labelOffset": 6, "labelFontSize": 24, "labelLimit": 400}}
 }},
{"data": {"values": [{}]}, "mark": {"type": "text", "text": "a", "fontSize": 25, "fontWeight": "bold", "align": "center", "baseline": "middle", "color": "#000000"},
 "encoding": {
  "x": {"datum": 1.05, "type": "quantitative", "scale": {"domain": [0, 15.9], "nice": false, "zero": false}, "axis": {"orient": "top", "values": [5, 10, 15], "labels": false, "title": null}},
  "y": {"datum": 4.39, "type": "quantitative", "scale": {"domain": [-6.46, 6.46], "nice": false, "zero": false}, "axis": {"orient": "right", "values": [-6, -4, -2, 0, 2, 4, 6], "labels": false, "title": null}}
 }}
]
},
{
"width": 444, "height": 311,
"resolve": {"axis": {"x": "independent", "y": "independent"}},
"layer": [
{"data": {"name": "cpts"}, "mark": {"type": "point", "opacity": 1, "strokeWidth": 1.3, "stroke": "#1f1fe0"},
 "encoding": {
  "x": {"field": "t", "type": "quantitative", "scale": {"domain": [0.377, 4.84], "nice": false, "zero": false}, "axis": {"values": [1, 2, 3, 4], "format": "~g", "title": "Years since diagnosis (t)"}},
  "y": {"field": "u", "type": "quantitative", "scale": {"domain": [0, 67.9], "nice": false, "zero": false}, "axis": {"values": [0, 10, 20, 30, 40, 50, 60], "title": "UPDRS I+II (u)"}},
  "shape": {"field": "s", "type": "nominal", "scale": {"domain": ["Unknown", "On", "Off"], "range": ["circle", "circle", "triangle-up"]},
   "legend": {"title": null, "orient": "none", "legendX": 290, "legendY": 18, "padding": 0, "labelOffset": 33, "labelFontSize": 20, "rowPadding": 4.5, "encode": {"symbols": {"stroke": {"value": "#1f1fe0"}, "strokeWidth": {"value": 1.3}}}}},
  "fill": {"field": "s", "type": "nominal", "scale": {"domain": ["Unknown", "On", "Off"], "range": ["#0000ff", "transparent", "transparent"]},
   "legend": {"title": null, "orient": "none", "legendX": 290, "legendY": 18, "padding": 0, "labelOffset": 33, "labelFontSize": 20, "rowPadding": 4.5, "encode": {"symbols": {"stroke": {"value": "#1f1fe0"}, "strokeWidth": {"value": 1.3}}}}},
  "size": {"field": "s", "type": "nominal", "scale": {"type": "ordinal", "domain": ["Unknown", "On", "Off"], "range": [110, 38, 55]},
   "legend": {"title": null, "orient": "none", "legendX": 290, "legendY": 18, "padding": 0, "labelOffset": 33, "labelFontSize": 20, "rowPadding": 4.5, "encode": {"symbols": {"stroke": {"value": "#1f1fe0"}, "strokeWidth": {"value": 1.3}}}}}
 }},
{"data": {"name": "ctrend"}, "mark": {"type": "line", "strokeWidth": 3.5},
 "encoding": {
  "x": {"field": "t", "type": "quantitative", "scale": {"domain": [0.377, 4.84], "nice": false, "zero": false}, "axis": null},
  "y": {"field": "u", "type": "quantitative", "scale": {"domain": [0, 67.9], "nice": false, "zero": false}, "axis": null},
  "stroke": {"datum": "Trend", "type": "nominal", "scale": {"range": ["#000000"]},
   "legend": {"title": null, "orient": "none", "legendX": 262.5, "legendY": 92, "padding": 0, "symbolType": "stroke", "symbolSize": 5041, "symbolStrokeWidth": 3.5, "clipHeight": 20, "labelOffset": 5.5, "labelFontSize": 20}}
 }},
{"data": {"values": [{}]}, "mark": {"type": "text", "text": "c", "fontSize": 25, "fontWeight": "bold", "align": "center", "baseline": "middle", "color": "#000000"},
 "encoding": {
  "x": {"datum": 0.686, "type": "quantitative", "scale": {"domain": [0.377, 4.84], "nice": false, "zero": false}, "axis": {"orient": "top", "values": [1, 2, 3, 4], "labels": false, "title": null}},
  "y": {"datum": 57, "type": "quantitative", "scale": {"domain": [0, 67.9], "nice": false, "zero": false}, "axis": {"orient": "right", "values": [0, 10, 20, 30, 40, 50, 60], "labels": false, "title": null}}
 }}
]
},
{
"width": 449, "height": 312,
"resolve": {"axis": {"x": "independent", "y": "independent"}},
"layer": [
{"data": {"name": "res"}, "mark": {"type": "circle", "size": 31, "opacity": 1, "clip": true},
 "encoding": {
  "x": {"field": "t", "type": "quantitative", "scale": {"domain": [0, 15.9], "nice": false, "zero": false}, "axis": {"values": [5, 10, 15], "title": "Years since diagnosis (t)"}},
  "y": {"field": "e", "type": "quantitative", "scale": {"domain": [0, 16], "nice": false, "zero": false}, "axis": {"values": [0, 5, 10, 15], "title": "UPDRS I+II residual (|e|)"}},
  "fill": {"datum": "|e|=exp(0.96+0.06t)", "type": "nominal", "scale": {"range": ["#808080"]},
   "legend": {"title": null, "orient": "none", "legendX": 113, "legendY": 15, "strokeColor": "#333333", "fillColor": "white", "padding": 6, "symbolType": "circle", "symbolSize": 16, "symbolStrokeWidth": 0, "clipHeight": 28, "symbolOffset": 35.5, "labelOffset": 31.5, "labelFontSize": 24, "labelLimit": 400}}
 }},
{"data": {"name": "bfit"}, "mark": {"type": "line", "color": "#000000", "strokeWidth": 2},
 "encoding": {
  "x": {"field": "t", "type": "quantitative", "scale": {"domain": [0, 15.9], "nice": false, "zero": false}, "axis": null},
  "y": {"field": "e", "type": "quantitative", "scale": {"domain": [0, 16], "nice": false, "zero": false}, "axis": null}
 }},
{"data": {"values": [{}]}, "mark": {"type": "text", "text": "b", "fontSize": 25, "fontWeight": "bold", "align": "center", "baseline": "middle", "color": "#000000"},
 "encoding": {
  "x": {"datum": 1.1, "type": "quantitative", "scale": {"domain": [0, 15.9], "nice": false, "zero": false}, "axis": {"orient": "top", "values": [5, 10, 15], "labels": false, "title": null}},
  "y": {"datum": 13.44, "type": "quantitative", "scale": {"domain": [0, 16], "nice": false, "zero": false}, "axis": {"orient": "right", "values": [0, 5, 10, 15], "labels": false, "title": null}}
 }}
]
},
{
"width": 444, "height": 312,
"resolve": {"axis": {"x": "independent", "y": "independent"}},
"layer": [
{"data": {"name": "dcurve"}, "mark": {"type": "line", "color": "#111111", "strokeWidth": 1.3, "interpolate": "monotone"},
 "encoding": {
  "x": {"field": "x", "type": "quantitative", "scale": {"domain": [0, 2.97], "nice": false, "zero": false}, "axis": {"values": [0.5, 1, 1.5, 2, 2.5], "format": "~g", "title": "Log regularization constant log₁₀(λ)"}},
  "y": {"field": "E", "type": "quantitative", "scale": {"domain": [0.9775, 1.219], "nice": false, "zero": false}, "axis": {"values": [1, 1.05, 1.1, 1.15, 1.2], "format": "~g", "title": "Test error (E)", "titlePadding": 17}}
 }},
{"data": {"values": [{}]}, "mark": {"type": "rule", "color": "#444444", "strokeWidth": 1, "strokeDash": [2, 2]},
 "encoding": {
  "x": {"datum": 1.155, "type": "quantitative", "scale": {"domain": [0, 2.97], "nice": false, "zero": false}, "axis": null}
 }},
{"data": {"values": [{}]}, "mark": {"type": "text", "text": "d", "fontSize": 25, "fontWeight": "bold", "align": "center", "baseline": "middle", "color": "#000000"},
 "encoding": {
  "x": {"datum": 0.206, "type": "quantitative", "scale": {"domain": [0, 2.97], "nice": false, "zero": false}, "axis": {"orient": "top", "values": [0.5, 1, 1.5, 2, 2.5], "labels": false, "title": null}},
  "y": {"datum": 1.18, "type": "quantitative", "scale": {"domain": [0.9775, 1.219], "nice": false, "zero": false}, "axis": {"orient": "right", "values": [1, 1.05, 1.1, 1.15, 1.2], "labels": false, "title": null}}
 }}
]
}
],
"config": {
 "font": "Liberation Sans",
 "view": {"stroke": "#333333", "strokeWidth": 1},
 "axis": {"grid": false, "domain": false, "tickSize": -6, "tickColor": "#333333", "labelFontSize": 24, "titleFontSize": 25, "titleFontWeight": "normal", "labelColor": "#000000", "titleColor": "#000000", "labelFont": "Liberation Sans", "titleFont": "Liberation Sans", "labelFlush": false, "labelOverlap": false, "labelBound": false},
 "axisX": {"labelPadding": 18, "titlePadding": 2},
 "axisY": {"labelPadding": 11, "titlePadding": 15},
 "legend": {"labelFont": "Liberation Sans", "labelColor": "#000000"},
 "text": {"font": "Liberation Sans"}
}
}
